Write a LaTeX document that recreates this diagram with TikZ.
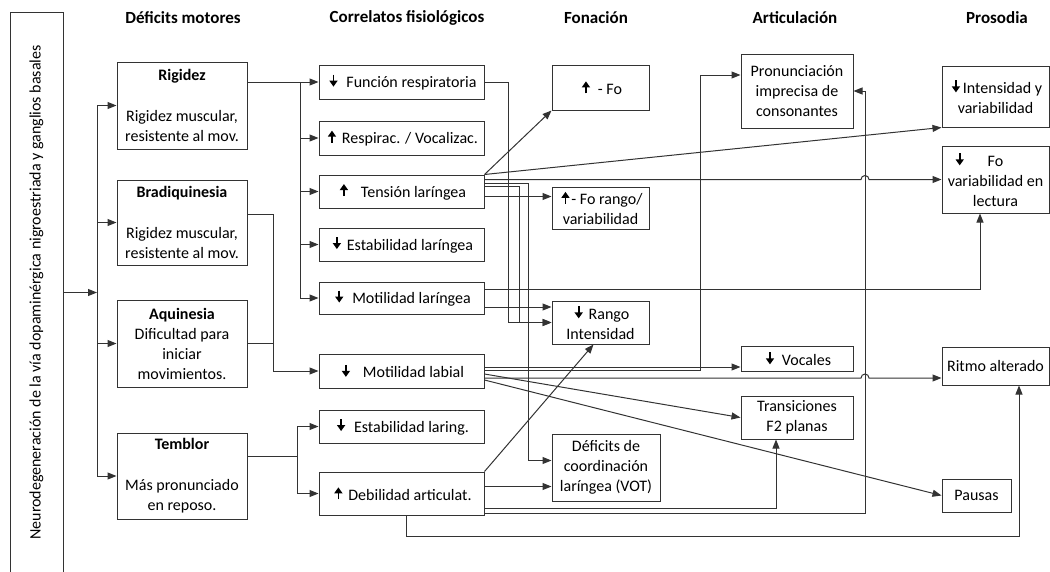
\documentclass[tikz,border=0pt]{standalone}
\usepackage{fontspec}
\setmainfont{Carlito}
\usetikzlibrary{arrows.meta}
\newcommand{\arrup}{\hspace{3pt}\tikz[baseline=-1pt]\draw[line width=1.7pt,-{Triangle[length=6pt,width=8pt]}] (0pt,0pt) -- (0pt,12pt);\hspace{6pt}}
\newcommand{\arrdn}{\hspace{3pt}\tikz[baseline=-1pt]\draw[line width=1.7pt,-{Triangle[length=6pt,width=8pt]}] (0pt,12pt) -- (0pt,0pt);\hspace{6pt}}
\tikzstyle{simplebox}=[rectangle,draw=black!80,line width=1pt,inner sep=1pt,
align=center,font=\fontsize{16}{20}\selectfont]
\tikzstyle{motorbox}=[simplebox,minimum width=130pt]
\tikzstyle{corrbox}=[simplebox,minimum width=165pt]
\tikzstyle{textbox}=[font=\fontsize{17}{20}\selectfont\bfseries]
\tikzstyle{edgepath}=[-{Triangle[length=9pt,width=7pt]},line width=1pt,draw=black!80]
\tikzstyle{plainpath}=[line width=1pt,draw=black!80]

\begin{document}
\begin{tikzpicture}[x=1pt,y=-1pt]
        \useasboundingbox (0,0) rectangle (1050,571);
        % column titles
        \node[textbox] (hmot) at (183,18) {Déficits motores};
        \node[textbox] (hcor) at (407,18) {Correlatos fisiológicos};
        \node[textbox] (hfon) at (596,18) {Fonación};
        \node[textbox] (hart) at (795,18) {Articulación};
        \node[textbox] (hpro) at (997,18) {Prosodia};

        \node[simplebox, rotate=90, minimum width=561pt, minimum height=53pt] (neuro) at (36.5,292.5)
            {Neurodegeneración de la vía dopaminérgica nigroestriada y ganglios basales};

        % motor deficits
        \node[motorbox, minimum height=87pt] (rig) at (182,105.5)
            {\textbf{Rigidez}\\[21pt]Rigidez muscular,\\resistente al mov.};
        \node[motorbox, minimum height=85pt] (brad) at (182,222.5)
            {\textbf{Bradiquinesia}\\[21pt]Rigidez muscular,\\resistente al mov.};
        \node[motorbox, minimum height=87pt] (aquin) at (182,343.5)
            {\textbf{Aquinesia}\\Dificultad para\\iniciar\\movimientos.};
        \node[motorbox, minimum height=86pt] (temb) at (182,476)
            {\textbf{Temblor}\\[21pt]Más pronunciado\\en reposo.};

        % physiological correlates
        \node[corrbox, minimum height=34pt] (fresp) at (401.5,82) {\arrdn\hspace{3pt}Función respiratoria};
        \node[corrbox, minimum height=34pt] (respvoc) at (401.5,138) {\arrup Respirac. / Vocalizac.};
        \node[corrbox, minimum height=33pt] (tension) at (401.5,191.5) {\arrup\hspace{7pt}Tensión laríngea};
        \node[corrbox, minimum height=33pt] (estlar) at (401.5,244.5) {\arrdn Estabilidad laríngea};
        \node[corrbox, minimum height=32pt] (motlar) at (401.5,298) {\arrdn\hspace{3pt}Motilidad laríngea};
        \node[corrbox, minimum height=34pt] (motlab) at (401.5,371) {\arrdn\hspace{7pt}Motilidad labial};
        \node[corrbox, minimum height=33pt] (estlaring) at (401.5,426.5) {\arrdn\hspace{3pt}Estabilidad laring.};
        \node[corrbox, minimum height=43pt] (debil) at (401.5,493.5) {\arrup Debilidad articulat.};

        % phonation
        \node[simplebox, minimum width=97pt, minimum height=45pt] (fo) at (600.5,87.5) {\arrup\hspace{2pt}- Fo};
        \node[simplebox, minimum width=97pt, minimum height=42pt] (forango) at (600.5,208) {\arrup\hspace{-4pt}- Fo rango/\\variabilidad};
        \node[simplebox, minimum width=97pt, minimum height=43pt] (rangoint) at (600.5,322.5) {\arrdn Rango\\Intensidad};
        \node[simplebox, minimum width=108pt, minimum height=67pt] (vot) at (606,467.5) {Déficits de\\coordinación\\laríngea (VOT)};

        % articulation
        \node[simplebox, minimum width=112pt, minimum height=74pt] (pron) at (797,91) {Pronunciación\\imprecisa de\\consonantes};
        \node[simplebox, minimum width=112pt, minimum height=25pt] (vocales) at (797,358.5) {\arrdn\hspace{2pt}Vocales};
        \node[simplebox, minimum width=112pt, minimum height=43pt] (trans) at (797,417.5) {Transiciones\\F2 planas};

        % prosody
        \node[simplebox, minimum width=107pt, minimum height=61pt] (intens) at (995.5,96.5) {\arrdn\hspace{-3pt}Intensidad y\\variabilidad};
        \node[simplebox, minimum width=107pt, minimum height=67pt] (fovar) at (995.5,179.5) {\llap{\arrdn\hspace{18pt}}Fo\\variabilidad en\\lectura};
        \node[simplebox, minimum width=107pt, minimum height=38pt] (ritmo) at (995.5,366) {Ritmo alterado};
        \node[simplebox, minimum width=69pt, minimum height=33pt] (pausas) at (976.5,495.5) {Pausas};

        % junction points
        \coordinate (mbus) at (97,292.5);
        \coordinate (rbus) at (300,82);
        \coordinate (bbus) at (273,214);
        \coordinate (tbus) at (297,456);
        \coordinate (frx) at (508,82);
        \coordinate (trx) at (519,186);
        \coordinate (tvx) at (528,183);
        \coordinate (labx) at (700,370);
        \coordinate (foup) at (980,289);
        \coordinate (trup) at (776,508);
        \coordinate (vrise) at (865,513);
        \coordinate (debdn) at (406,536);
        \coordinate (ritx) at (1019,536);

        % motor deficits
        \draw[edgepath] (neuro.south) -- (mbus);
        \foreach \n in {rig,brad,aquin,temb}
            \draw[edgepath] (mbus) |- (\n.west);
        \draw[edgepath] (rig.east |- rbus) -- (fresp.west);
        \foreach \n in {respvoc,tension,estlar,motlar}
            \draw[edgepath] (rbus) |- (\n.west);
        \draw[edgepath] (brad.east |- bbus) -- (bbus) |- (motlab.west);
        \draw[plainpath] (aquin.east) -- (aquin.east -| bbus);
        \draw[plainpath] (temb.east |- tbus) -- (tbus);
        \draw[edgepath] (tbus) |- (estlaring.west);
        \draw[edgepath] (tbus) |- (debil.west);

        % correlates
        \draw[edgepath] (fresp.east) -- (frx) |- (rangoint.west);
        \draw[edgepath] (tension.north east) -- (fo.south west);
        \draw[edgepath] (tension.north east) -- (intens.south west);
        \draw[edgepath] (tension.east |- fovar.west) -- ([xshift=-4pt]vrise |- fovar.west)
            arc[start angle=180, end angle=0, radius=4pt] -- (fovar.west);
        \draw[edgepath] (tension.east |- tvx) -- (tvx) |- ([yshift=7pt]vot.west);
        \draw[edgepath] (tension.east |- trx) -- (trx) |- (rangoint.west);
        \draw[edgepath] ([yshift=-5pt]tension.east) -- ([yshift=-5pt]tension.east -| forango.west);
        \draw[edgepath] (motlar.east |- foup) -- (foup) -- (foup |- fovar.south);
        \draw[edgepath] ([yshift=-9pt]motlar.east) -- ([yshift=-9pt]motlar.east -| rangoint.west);
        \draw[edgepath] ([yshift=4pt]motlab.east) -- ([yshift=4pt]motlab.east -| vocales.west);
        \draw[edgepath] (motlab.east |- labx) -- (labx) |- ([yshift=16pt]pron.west);
        \draw[edgepath] ([yshift=-7pt]motlab.east) -- ([xshift=-4pt,yshift=-7pt]vrise |- motlab.east)
            arc[start angle=180, end angle=0, radius=4pt] -- ([yshift=-7pt]motlab.east -| ritmo.west);
        \draw[edgepath] ([yshift=-3pt]motlab.east) -- (trans.west);
        \draw[edgepath] ([yshift=-9pt]motlab.east) -- (pausas.west);
        \draw[edgepath] (debil.north east) -- ([xshift=-7pt]rangoint.south);
        \draw[edgepath] ([yshift=7pt]debil.east) -- ([yshift=7pt]debil.east -| vot.west);
        \draw[edgepath] (debil.east |- trup) -- (trup) -- (trup |- trans.south);
        \draw[edgepath] (debil.east |- vrise) -- (vrise) |- (pron.east);
        \draw[edgepath] (debil.south -| debdn) -- (debdn) -- (ritx) -- (ritx |- ritmo.south);
    \end{tikzpicture}
\end{document}
